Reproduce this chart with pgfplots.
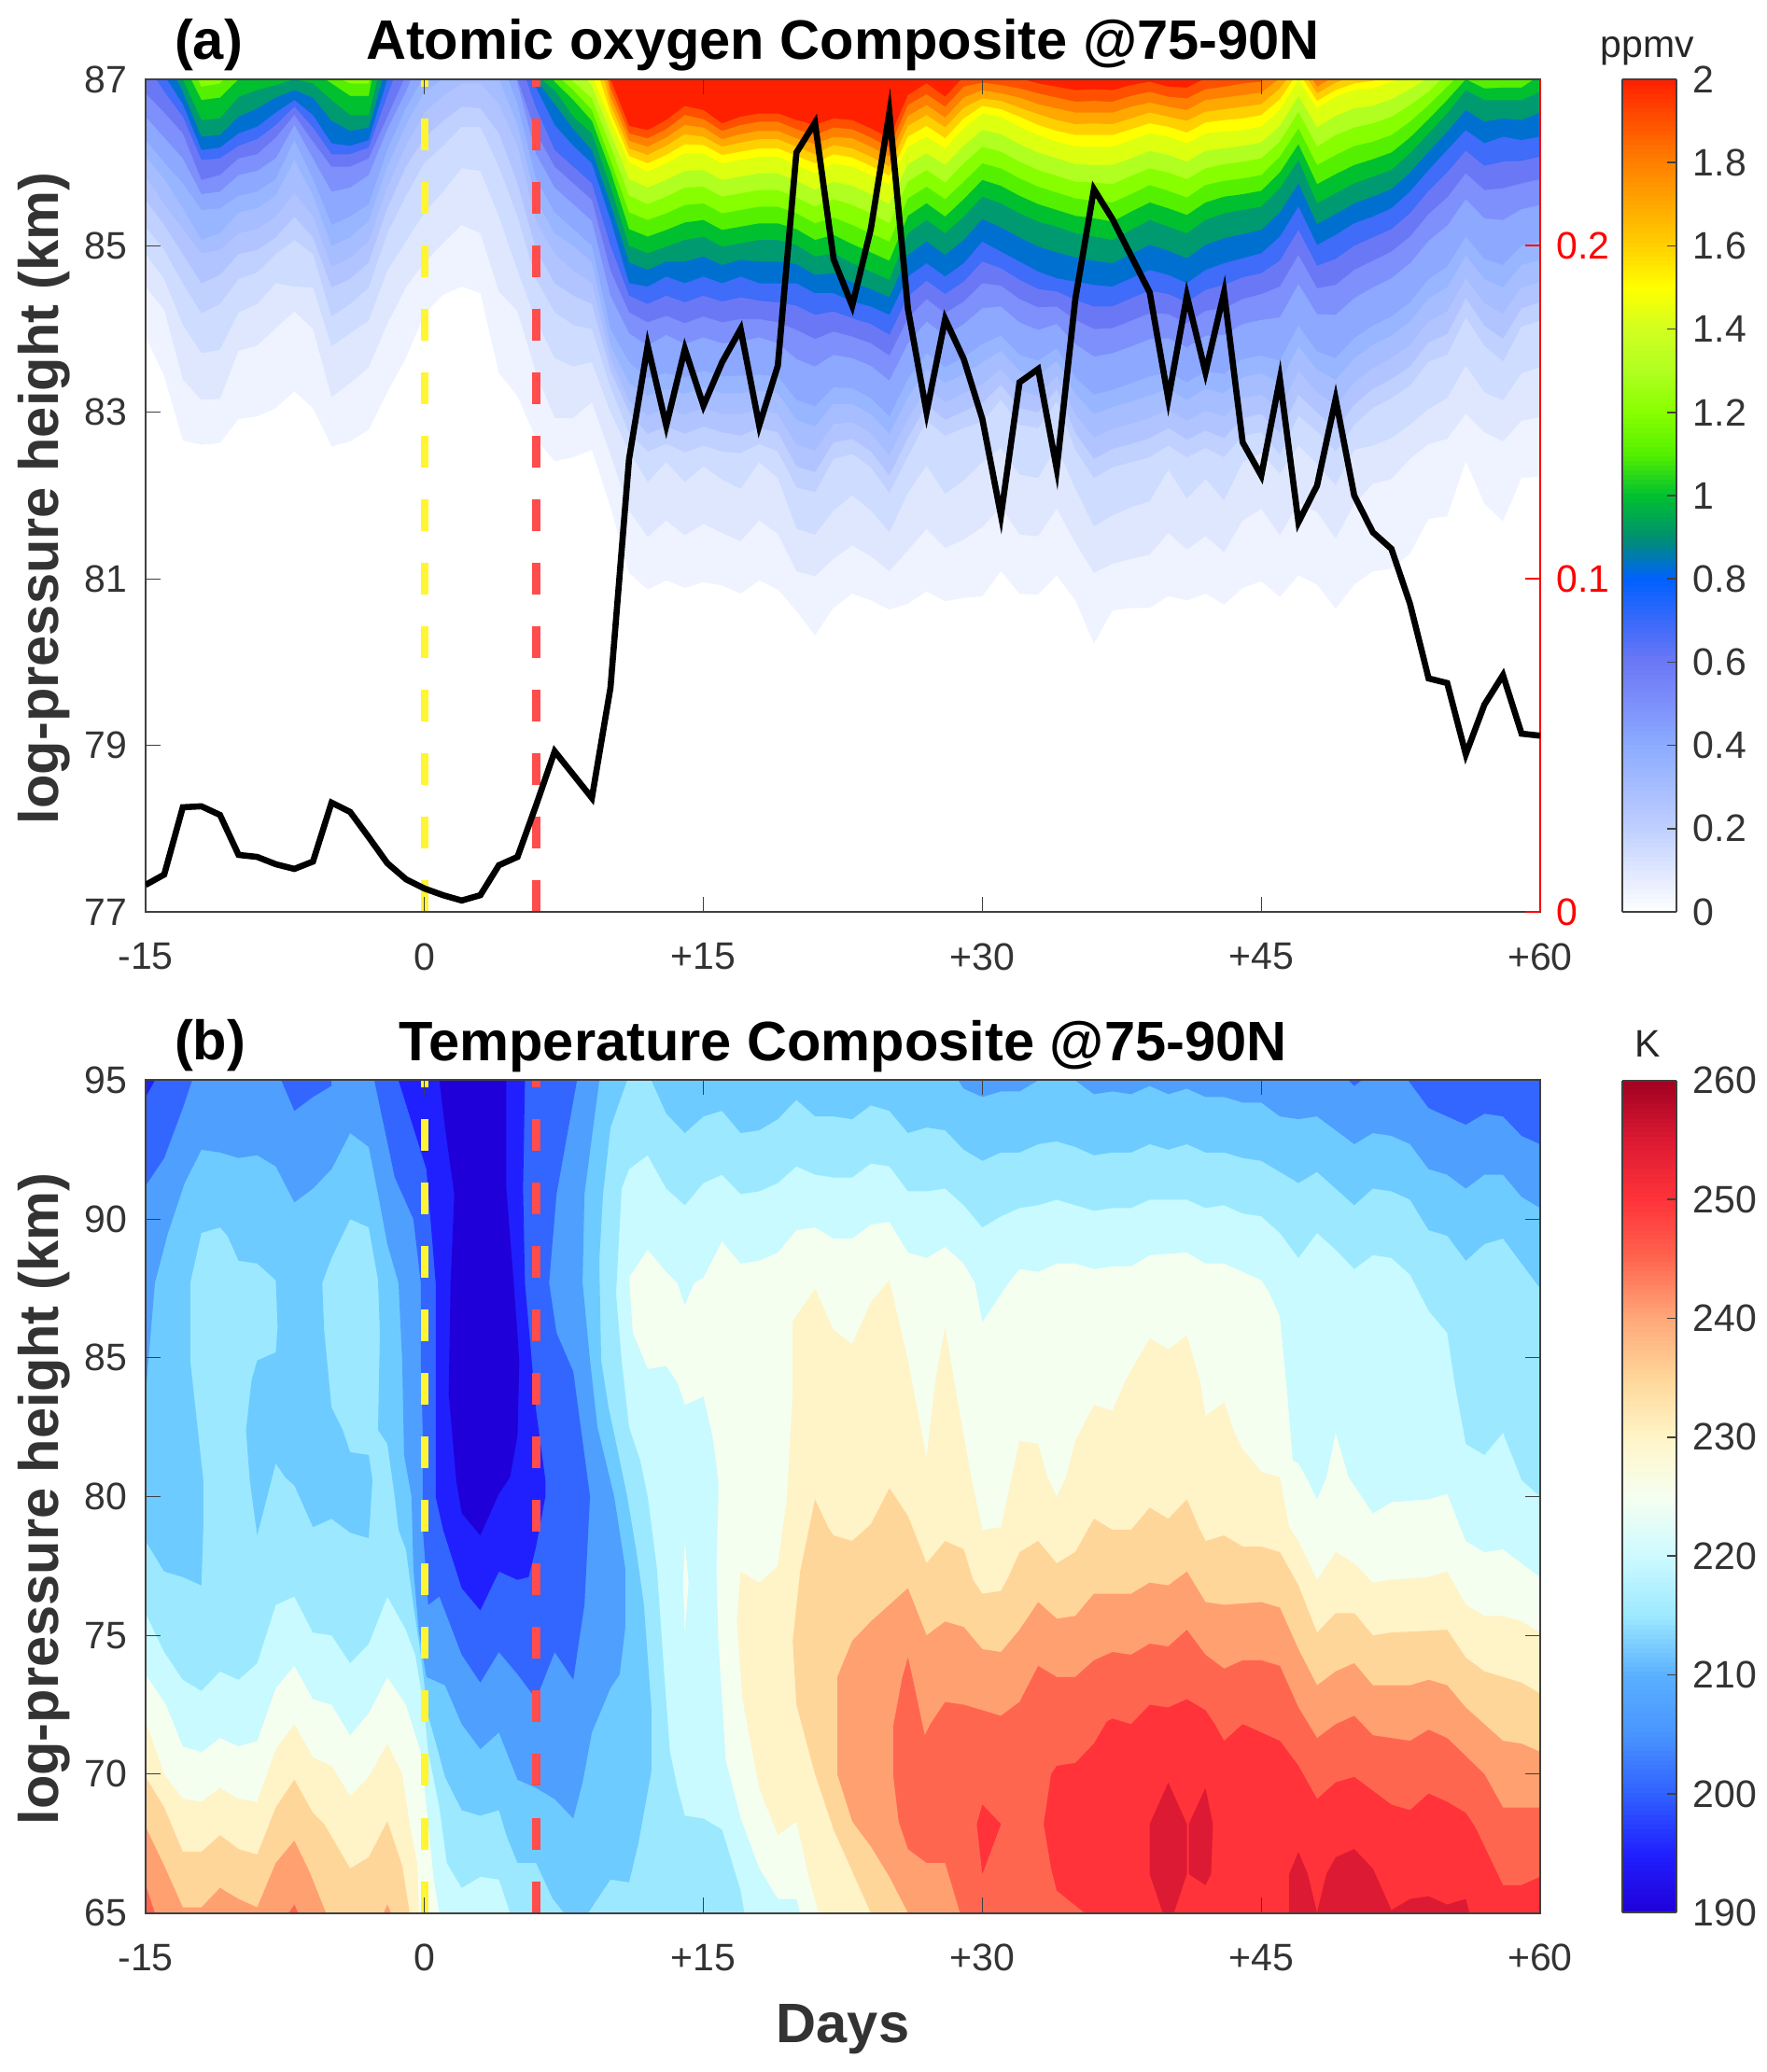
\documentclass[border=0pt]{standalone}
\usepackage{fontspec}
\setmainfont{Liberation Sans}
\usepackage{pgfplots}
\usepackage{pgfplotstable}
\pgfplotsset{compat=1.18}
\newcommand{\ticksize}{\fontsize{20.5}{24}\selectfont}
\newcommand{\titlesize}{\fontsize{29.8}{34}\selectfont\bfseries}
\definecolor{spine}{HTML}{404040}
\definecolor{labelc}{HTML}{333333}
% atomic oxygen bands, each named after its upper level
\definecolor{b005}{HTML}{FFFFFF}\definecolor{b010}{HTML}{EEF3FF}\definecolor{b015}{HTML}{DFE7FF}
\definecolor{b020}{HTML}{CDDCFF}\definecolor{b025}{HTML}{C0D0FF}\definecolor{b030}{HTML}{B2C4FF}
\definecolor{b035}{HTML}{A6BDFF}\definecolor{b040}{HTML}{98B6FF}\definecolor{b050}{HTML}{8CA8FF}
\definecolor{b060}{HTML}{7D90FB}\definecolor{b070}{HTML}{6B78F5}\definecolor{b080}{HTML}{3F6CF8}
\definecolor{b090}{HTML}{0070D0}\definecolor{b100}{HTML}{009A70}\definecolor{b110}{HTML}{00C030}
\definecolor{b120}{HTML}{55F000}\definecolor{b130}{HTML}{88FF00}\definecolor{b140}{HTML}{B0FF20}
\definecolor{b150}{HTML}{DDFF10}\definecolor{b160}{HTML}{FFFF00}\definecolor{b170}{HTML}{FFD000}
\definecolor{b180}{HTML}{FFA800}\definecolor{b190}{HTML}{FF8000}\definecolor{b200}{HTML}{FF5000}
\definecolor{btop}{HTML}{FF2000}
% temperature bands
\definecolor{t190}{HTML}{2000D8}\definecolor{t195}{HTML}{2020FF}\definecolor{t200}{HTML}{3366FF}
\definecolor{t205}{HTML}{4F9FFF}\definecolor{t210}{HTML}{6ECBFF}\definecolor{t215}{HTML}{9CE9FF}
\definecolor{t220}{HTML}{C8FAFF}\definecolor{t225}{HTML}{F5FFF0}\definecolor{t230}{HTML}{FFF3C8}
\definecolor{t235}{HTML}{FFD699}\definecolor{t240}{HTML}{FFA070}\definecolor{t245}{HTML}{FF6650}
\definecolor{t250}{HTML}{FF3339}\definecolor{t255}{HTML}{DD1A33}
\pgfplotsset{
  colormap={ao}{rgb255=(255,255,255) rgb255=(223,231,255) rgb255=(192,208,255) rgb255=(166,189,255)
    rgb255=(140,172,255) rgb255=(125,144,251) rgb255=(107,120,245) rgb255=(58,106,250) rgb255=(0,96,255)
    rgb255=(0,144,112) rgb255=(0,192,48) rgb255=(85,240,0) rgb255=(136,255,0) rgb255=(176,255,32)
    rgb255=(208,255,32) rgb255=(255,255,0) rgb255=(255,208,0) rgb255=(255,168,0) rgb255=(255,128,0)
    rgb255=(255,80,0) rgb255=(255,32,0)},
  colormap={tk}{rgb255=(32,0,216) rgb255=(32,32,255) rgb255=(48,96,255) rgb255=(72,148,255)
    rgb255=(90,176,255) rgb255=(156,233,255) rgb255=(205,250,255) rgb255=(245,255,240) rgb255=(255,245,200)
    rgb255=(255,214,153) rgb255=(255,168,120) rgb255=(255,102,80) rgb255=(255,51,57) rgb255=(221,26,51)
    rgb255=(160,0,32)},
  panel/.style={
    scale only axis, width=747pt, height=446pt,
    xmin=-15, xmax=60,
    xtick={-15,0,15,30,45,60},
    xticklabels={-15,0,+15,+30,+45,+60},
    axis on top,
    tick align=inside,
    major tick length=8pt,
    tick style={color=spine,line width=0.6pt},
    axis line style={color=spine,line width=1pt},
    xticklabel style={font=\ticksize,color=labelc,anchor=north,inner sep=0pt,yshift=-16.5pt},
    yticklabel style={font=\ticksize,color=labelc,anchor=east,inner sep=0pt,xshift=-9.5pt},
    title style={at={(axis description cs:0.5,1.0105)},anchor=base,font=\titlesize,color=black},
    every axis y label/.style={at={(axis description cs:-0.06225,0.497)},rotate=90,anchor=base,font=\titlesize,color=labelc},
    every axis x label/.style={at={(axis description cs:0.5,-0.1557)},anchor=base,font=\titlesize,color=labelc},
  },
  bar/.style={at={(parent axis.south east)},anchor=south west,xshift=35.7pt,width=29pt,height=446pt,
    samples=180,
    ytick pos=right,yticklabel pos=right,tick align=inside,major tick length=5pt,
    tick style={color=spine,line width=0.8pt},axis line style={color=spine,line width=1pt},
    yticklabel style={font=\ticksize,color=labelc,anchor=west,inner sep=0pt,xshift=8.5pt}},
}
\pgfplotstableread{
d L005 L010 L015 L020 L025 L030 L035 L040 L050 L060 L070 L080 L090 L100 L110 L120 L130 L140 L150 L160 L170 L180 L190 L200
-15 83.91 84.51 84.9 85.23 85.55 85.83 86.07 86.27 86.55 86.83 87.2 87.7 88 88 88 88 88 88 88 88 88 88 88 88
-14 83.43 84.23 84.6 84.95 85.25 85.5 85.8 86.0 86.3 86.6 86.85 87.05 87.3 87.6 88 88 88 88 88 88 88 88 88 88
-13 82.66 83.39 84.05 84.55 84.9 85.2 85.45 85.75 86.05 86.35 86.55 86.7 86.85 87.0 87.2 87.4 87.7 88 88 88 88 88 88 88
-12 82.61 83.15 83.71 84.19 84.55 84.91 85.07 85.43 85.62 85.79 86.03 86.15 86.31 86.51 86.75 86.91 87.03 87.3 87.6 88 88 88 88 88
-11 82.63 83.16 83.75 84.3 84.65 84.95 85.15 85.45 85.65 85.85 86.05 86.18 86.33 86.53 86.78 86.95 87.1 87.3 87.6 88 88 88 88 88
-10 82.92 83.74 84.2 84.6 84.9 85.15 85.4 85.6 85.85 86.05 86.2 86.35 86.55 86.79 87.0 87.2 87.5 88 88 88 88 88 88 88
-9 82.95 83.80 84.3 84.68 84.95 85.2 85.45 85.65 85.9 86.1 86.28 86.43 86.65 86.87 87.1 87.3 87.6 88 88 88 88 88 88 88
-8 83.05 84.01 84.55 84.9 85.1 85.35 85.6 85.8 86.05 86.3 86.45 86.6 86.78 86.93 87.15 87.35 87.7 88 88 88 88 88 88 88
-7 83.25 84.21 84.51 85.07 85.35 85.63 86.03 86.27 86.45 86.57 86.67 86.75 86.87 87.0 87.2 87.4 88 88 88 88 88 88 88 88
-6 83.05 84.0 84.5 84.9 85.1 85.35 85.6 85.8 86.05 86.25 86.42 86.57 86.78 86.95 87.1 87.3 87.6 88 88 88 88 88 88 88
-5 82.59 83.18 83.79 84.15 84.5 84.75 85.0 85.25 85.65 85.95 86.1 86.23 86.5 86.75 86.95 87.05 87.3 87.6 88 88 88 88 88 88
-4 82.65 83.35 83.95 84.3 84.6 84.85 85.1 85.35 85.7 85.95 86.1 86.2 86.38 86.57 86.8 86.95 87.2 87.5 88 88 88 88 88 88
-3 82.79 83.54 84.1 84.5 84.8 85.05 85.3 85.5 85.85 86.05 86.18 86.27 86.42 86.57 86.8 86.95 87.2 87.5 88 88 88 88 88 88
-2 83.24 84.06 84.7 85.15 85.45 85.7 85.95 86.15 86.4 86.55 86.8 87.0 87.2 87.5 88 88 88 88 88 88 88 88 88 88
-1 83.65 84.5 85.05 85.6 85.95 86.2 86.45 86.65 86.85 87.05 87.4 88 88 88 88 88 88 88 88 88 88 88 88 88
0 84.18 84.8 85.4 86.0 86.3 86.6 86.85 87.05 87.4 88 88 88 88 88 88 88 88 88 88 88 88 88 88 88
1 84.41 85.03 85.65 86.2 86.5 86.8 87.0 87.3 88 88 88 88 88 88 88 88 88 88 88 88 88 88 88 88
2 84.51 85.25 85.93 86.43 86.67 86.95 87.2 87.6 88 88 88 88 88 88 88 88 88 88 88 88 88 88 88 88
3 84.43 85.15 85.9 86.43 86.65 86.95 87.2 87.6 88 88 88 88 88 88 88 88 88 88 88 88 88 88 88 88
4 83.47 84.45 85.35 85.95 86.35 86.7 87.0 87.3 87.8 88 88 88 88 88 88 88 88 88 88 88 88 88 88 88
5 83.19 84.21 84.7 85.35 85.75 86.2 86.45 86.7 86.95 87.0 87.3 87.5 88 88 88 88 88 88 88 88 88 88 88 88
6 82.68 83.47 84.1 84.6 84.95 85.3 85.55 85.8 86.1 86.35 86.65 86.9 87.0 87.05 87.3 87.6 88 88 88 88 88 88 88 88
7 82.41 82.93 83.65 84.2 84.55 84.9 85.15 85.4 85.7 85.95 86.15 86.45 86.7 86.87 86.97 87.07 87.3 87.6 88 88 88 88 88 88
8 82.46 82.93 83.55 84.05 84.4 84.7 85.0 85.2 85.5 85.75 85.95 86.2 86.4 86.55 86.75 86.87 86.97 87.2 87.5 88 88 88 88 88
9 82.55 83.12 83.6 84.0 84.3 84.55 84.8 85.0 85.3 85.55 85.75 85.99 86.15 86.35 86.5 86.63 86.77 86.92 87.05 87.3 87.6 88 88 88
10 81.86 82.49 83.0 83.3 83.5 83.65 83.8 84.0 84.4 84.7 85.0 85.31 85.5 85.71 85.9 86.03 86.2 86.35 86.51 86.6 86.7 86.8 86.9 87.0
11 81.07 81.82 82.53 82.75 83.0 83.13 83.35 83.6 83.95 84.2 84.4 84.55 84.8 85.0 85.2 85.4 85.6 85.8 86.0 86.08 86.17 86.26 86.35 86.44
12 80.87 81.50 82.16 82.53 82.74 82.96 83.2 83.41 83.8 84.08 84.3 84.51 84.71 84.91 85.11 85.31 85.5 85.7 85.89 85.99 86.09 86.19 86.29 86.39
13 80.98 81.70 82.40 82.62 82.83 83.05 83.28 83.47 83.93 84.16 84.4 84.63 84.81 84.99 85.19 85.39 85.59 85.79 85.99 86.09 86.2 86.3 86.4 86.51
14 80.89 81.52 82.16 82.52 82.74 82.97 83.22 83.42 83.82 84.07 84.32 84.55 84.81 85.07 85.28 85.49 85.7 85.9 86.11 86.22 86.34 86.45 86.57 86.68
15 80.96 81.66 82.35 82.6 82.83 83.05 83.3 83.5 83.9 84.15 84.4 84.63 84.87 85.11 85.31 85.51 85.71 85.91 86.11 86.21 86.31 86.42 86.52 86.63
16 80.92 81.55 82.19 82.53 82.76 82.98 83.23 83.43 83.83 84.08 84.33 84.55 84.77 84.99 85.19 85.39 85.59 85.79 85.99 86.09 86.19 86.28 86.38 86.47
17 80.82 81.45 82.08 82.51 82.72 82.98 83.23 83.44 83.85 84.12 84.38 84.63 84.83 85.03 85.23 85.43 85.63 85.83 86.03 86.13 86.24 86.34 86.45 86.55
18 80.98 81.70 82.40 82.62 82.81 83.03 83.26 83.45 83.9 84.12 84.34 84.55 84.81 85.07 85.27 85.47 85.67 85.87 86.07 86.17 86.28 86.38 86.49 86.59
19 80.87 81.54 82.21 82.53 82.76 82.98 83.23 83.43 83.83 84.08 84.32 84.55 84.81 85.07 85.27 85.47 85.67 85.87 86.07 86.17 86.28 86.38 86.49 86.59
20 80.61 81.09 81.60 82.10 82.35 82.61 82.91 83.15 83.64 83.99 84.28 84.55 84.78 85.01 85.2 85.39 85.58 85.78 85.97 86.08 86.19 86.29 86.4 86.51
21 80.32 81.03 81.53 82.04 82.28 82.54 82.83 83.07 83.55 83.88 84.17 84.43 84.65 84.87 85.07 85.27 85.47 85.67 85.87 85.99 86.1 86.22 86.33 86.45
22 80.65 81.24 81.82 82.44 82.64 82.86 83.1 83.3 83.69 83.97 84.21 84.43 84.67 84.91 85.13 85.34 85.56 85.77 85.99 86.1 86.21 86.31 86.42 86.53
23 80.82 81.40 82.0 82.5 82.68 82.88 83.1 83.29 83.65 83.91 84.13 84.33 84.56 84.79 85.02 85.25 85.49 85.72 85.95 86.06 86.17 86.29 86.4 86.51
24 80.74 81.27 81.82 82.34 82.53 82.75 82.98 83.17 83.56 83.83 84.06 84.27 84.48 84.69 84.92 85.15 85.39 85.62 85.85 85.96 86.07 86.19 86.3 86.41
25 80.63 81.09 81.56 82.03 82.24 82.48 82.74 82.95 83.38 83.68 83.93 84.17 84.38 84.59 84.82 85.05 85.27 85.5 85.73 85.84 85.95 86.07 86.18 86.29
26 80.70 81.34 82.03 82.47 82.69 82.92 83.18 83.4 83.83 84.13 84.39 84.63 84.89 85.15 85.36 85.57 85.77 85.98 86.19 86.31 86.44 86.56 86.69 86.81
27 80.85 81.60 82.36 82.9 83.09 83.3 83.52 83.71 84.09 84.36 84.58 84.79 85.05 85.31 85.51 85.71 85.91 86.11 86.31 86.44 86.57 86.69 86.82 86.95
28 80.73 81.37 82.02 82.72 82.91 83.12 83.35 83.54 83.92 84.19 84.42 84.63 84.89 85.15 85.35 85.56 85.76 85.97 86.17 86.29 86.42 86.54 86.67 86.79
29 80.77 81.47 82.18 82.81 83.01 83.23 83.46 83.66 84.06 84.33 84.57 84.79 85.07 85.35 85.56 85.77 85.99 86.2 86.41 86.53 86.66 86.78 86.91 87.03
30 80.79 81.62 82.40 82.89 83.11 83.34 83.6 83.82 84.25 84.55 84.81 85.05 85.32 85.59 85.79 85.99 86.19 86.39 86.59 86.68 86.77 86.87 86.96 87.05
31 81.09 81.86 82.57 83.15 83.33 83.52 83.74 83.92 84.27 84.52 84.73 84.93 85.22 85.51 85.72 85.93 86.13 86.34 86.55 86.64 86.74 86.83 86.93 87.02
32 80.82 81.53 82.25 82.85 83.05 83.26 83.5 83.69 84.08 84.36 84.59 84.81 85.1 85.39 85.6 85.81 86.01 86.22 86.43 86.55 86.66 86.78 86.89 87.01
33 80.81 81.51 82.21 82.81 83.0 83.2 83.43 83.62 83.99 84.26 84.48 84.69 84.99 85.29 85.5 85.71 85.91 86.12 86.33 86.45 86.58 86.7 86.83 86.95
34 81.04 81.84 82.59 83.13 83.28 83.44 83.62 83.77 84.06 84.27 84.45 84.61 84.92 85.23 85.43 85.64 85.84 86.05 86.25 86.38 86.51 86.65 86.78 86.91
35 80.74 81.43 82.08 82.55 82.75 82.97 83.22 83.42 83.82 84.11 84.35 84.57 84.86 85.15 85.36 85.57 85.77 85.98 86.19 86.33 86.46 86.6 86.73 86.87
36 80.22 81.07 81.63 82.21 82.44 82.7 82.98 83.21 83.67 84.0 84.27 84.53 84.82 85.11 85.33 85.54 85.76 85.97 86.19 86.33 86.47 86.6 86.74 86.88
37 80.62 81.18 81.76 82.34 82.56 82.8 83.06 83.27 83.71 84.01 84.27 84.51 84.79 85.07 85.29 85.52 85.74 85.97 86.19 86.33 86.46 86.6 86.73 86.87
38 80.65 81.24 81.86 82.40 82.62 82.86 83.13 83.35 83.79 84.1 84.37 84.61 84.9 85.19 85.41 85.62 85.84 86.05 86.27 86.4 86.53 86.67 86.8 86.93
39 80.65 81.29 81.93 82.46 82.69 82.93 83.2 83.43 83.88 84.19 84.46 84.71 85.01 85.31 85.52 85.73 85.93 86.14 86.35 86.47 86.6 86.72 86.85 86.97
40 80.79 81.55 82.31 82.6 82.81 83.03 83.28 83.48 83.89 84.18 84.42 84.65 84.94 85.23 85.45 85.66 85.88 86.09 86.31 86.43 86.55 86.67 86.79 86.91
41 80.74 81.35 81.96 82.46 82.67 82.9 83.15 83.36 83.78 84.07 84.32 84.55 84.85 85.15 85.37 85.58 85.8 86.01 86.23 86.36 86.5 86.63 86.77 86.9
42 80.82 81.51 82.2 82.57 82.78 83.02 83.28 83.49 83.92 84.22 84.47 84.71 85.01 85.31 85.52 85.73 85.93 86.14 86.35 86.48 86.61 86.75 86.88 87.01
43 80.69 81.32 81.94 82.46 82.69 82.95 83.23 83.46 83.93 84.25 84.53 84.79 85.09 85.39 85.59 85.78 85.98 86.17 86.37 86.51 86.64 86.78 86.91 87.05
44 80.89 81.70 82.4 82.72 82.93 83.17 83.42 83.64 84.06 84.36 84.62 84.85 85.14 85.43 85.62 85.81 86.01 86.2 86.39 86.53 86.67 86.81 86.95 87.09
45 80.97 81.84 82.51 82.76 82.98 83.21 83.47 83.68 84.11 84.42 84.67 84.91 85.19 85.47 85.66 85.85 86.05 86.24 86.43 86.57 86.7 86.84 86.97 87.11
46 80.78 81.52 82.26 82.49 82.75 83.04 83.35 83.62 84.14 84.51 84.82 85.11 85.4 85.69 85.88 86.07 86.25 86.44 86.63 86.76 86.89 87.01 87.14 87.27
47 81.04 81.91 82.6 82.96 83.21 83.49 83.79 84.04 84.54 84.89 85.19 85.47 85.75 86.03 86.22 86.41 86.61 86.8 86.99 87.09 87.18 87.28 87.37 87.47
48 80.93 81.80 82.38 82.77 83.0 83.24 83.51 83.73 84.18 84.49 84.76 85.01 85.26 85.51 85.74 85.97 86.19 86.42 86.65 86.74 86.83 86.91 87.0 87.09
49 80.64 81.48 82.12 82.53 82.79 83.08 83.39 83.65 84.17 84.53 84.84 85.13 85.38 85.63 85.86 86.09 86.33 86.56 86.79 86.87 86.96 87.04 87.13 87.21
50 80.93 81.90 82.55 82.85 83.09 83.36 83.65 83.89 84.37 84.71 85.0 85.27 85.51 85.75 85.97 86.2 86.42 86.65 86.87 86.95 87.04 87.12 87.21 87.29
51 81.09 82.14 82.6 83.05 83.28 83.53 83.81 84.04 84.5 84.82 85.1 85.35 85.59 85.83 86.04 86.25 86.47 86.68 86.89 86.98 87.07 87.17 87.26 87.35
52 81.12 82.20 82.69 83.17 83.4 83.65 83.92 84.15 84.61 84.93 85.2 85.45 85.68 85.91 86.12 86.33 86.55 86.76 86.97 87.05 87.14 87.22 87.31 87.39
53 81.30 82.44 82.85 83.32 83.55 83.81 84.09 84.32 84.79 85.11 85.39 85.65 85.88 86.11 86.3 86.49 86.69 86.88 87.07 87.15 87.23 87.31 87.39 87.47
54 81.72 82.62 83.04 83.61 83.84 84.09 84.37 84.6 85.06 85.38 85.66 85.91 86.13 86.35 86.52 86.69 86.85 87.02 87.19 87.3 87.4 87.45 87.5 87.55
55 81.75 82.68 83.17 83.69 83.94 84.21 84.5 84.75 85.24 85.58 85.88 86.15 86.37 86.59 86.75 86.91 87.07 87.23 87.39 87.45 87.5 87.6 87.65 87.71
56 82.41 82.98 83.56 84.14 84.37 84.61 84.88 85.11 85.56 85.87 86.14 86.39 86.63 86.87 87.0 87.14 87.28 87.41 87.55 87.6 87.65 87.7 87.8 87.83
57 81.90 82.76 83.24 83.8 84.04 84.31 84.6 84.84 85.33 85.67 85.96 86.23 86.49 86.75 86.89 87.03 87.16 87.3 87.43 87.5 87.55 87.6 87.7 87.75
58 81.69 82.65 83.14 83.61 83.88 84.18 84.5 84.77 85.31 85.69 86.01 86.31 86.53 86.75 86.9 87.04 87.18 87.33 87.47 87.5 87.55 87.65 87.7 87.75
59 82.21 82.90 83.47 84.03 84.25 84.5 84.77 85.0 85.44 85.75 86.02 86.27 86.51 86.75 86.9 87.04 87.18 87.33 87.47 87.5 87.55 87.65 87.7 87.75
60 82.23 82.94 83.54 84.1 84.32 84.56 84.83 85.05 85.49 85.8 86.07 86.31 86.6 86.85 87.05 87.2 87.33 87.44 87.55 87.6 87.65 87.7 87.8 87.83
}\aolevels
\pgfplotstableread{
d v
-15 .0081
-14 .0112
-13 .0314
-12 .0317
-11 .0291
-10 .0171
-9 .0165
-8 .0143
-7 .0129
-6 .0151
-5 .0328
-4 .0300
-3 .0224
-2 .0146
-1 .0098
0 .0070
1 .0050
2 .0034
3 .0050
4 .0140
5 .0165
6 .0320
7 .0482
8 .0412
9 .0342
10 .0673
11 .136
12 .170
13 .146
14 .169
15 .152
16 .165
17 .175
18 .146
19 .164
20 .228
21 .237
22 .196
23 .182
24 .205
25 .240
26 .181
27 .150
28 .178
29 .166
30 .148
31 .119
32 .159
33 .163
34 .133
35 .184
36 .217
37 .208
38 .197
39 .186
40 .154
41 .185
42 .162
43 .186
44 .141
45 .131
46 .160
47 .117
48 .128
49 .154
50 .125
51 .114
52 .109
53 .0925
54 .0701
55 .0687
56 .0473
57 .0622
58 .0711
59 .0535
60 .0529
}\aoindex
\begin{document}
\begin{tikzpicture}
\useasboundingbox (0,0) rectangle (946pt,1110pt);

% panel (a)
\begin{axis}[panel, name=pa, at={(78pt,621.5pt)}, anchor=south west,
  title={Atomic oxygen Composite @75-90N},
  ylabel={log-pressure height (km)},
  ymin=77, ymax=87,
  ytick={77,79,81,83,85,87}, yticklabels={77,79,81,83,85,87},
  ytick pos=left,
  axis background/.style={fill=btop},
  colormap name=ao, point meta min=0, point meta max=2,
  colorbar sampled,
  colorbar style={bar,
    ytick={0,0.2,0.4,0.6,0.8,1,1.2,1.4,1.6,1.8,2},
    yticklabels={0,0.2,0.4,0.6,0.8,1,1.2,1.4,1.6,1.8,2}},
]
\pgfplotsinvokeforeach{200,190,180,170,160,150,140,130,120,110,100,090,080,070,060,050,040,035,030,025,020,015,010,005}{
  \addplot[fill=b#1,draw=none] table[x=d,y=L#1]{\aolevels} \closedcycle;
}
\addplot[color=yellow!80!white,line width=4.2pt,dash pattern=on 17pt off 17pt,dash phase=13pt] coordinates {(0,87)(0,77)};
\addplot[color=red!70!white,line width=4.2pt,dash pattern=on 17pt off 17pt,dash phase=13pt] coordinates {(6,87)(6,77)};
\end{axis}

\begin{axis}[scale only axis, width=747pt, height=446pt, at={(78pt,621.5pt)}, anchor=south west,
  xmin=-15, xmax=60, ymin=0, ymax=0.25,
  axis x line=none, axis y line*=right,
  ytick={0,0.1,0.2}, yticklabels={0,0.1,0.2},
  tick align=inside, major tick length=8pt,
  y axis line style={color=red,line width=1pt},
  ytick style={color=red,line width=1pt},
  yticklabel style={font=\ticksize,color=red,anchor=west,inner sep=0pt,xshift=8.5pt},
]
\addplot[color=black,line width=3.3pt] table[x=d,y=v]{\aoindex};
\end{axis}

% panel (b)
\begin{axis}[panel, name=pb, at={(78pt,85.25pt)}, anchor=south west,
  title={Temperature Composite @75-90N},
  ylabel={log-pressure height (km)},
  xlabel={Days},
  ymin=65, ymax=95,
  ytick={65,70,75,80,85,90,95}, yticklabels={65,70,75,80,85,90,95},
  axis background/.style={fill=t225},
  colormap name=tk, point meta min=190, point meta max=260,
  colorbar sampled,
  colorbar style={bar,
    ytick={190,200,210,220,230,240,250,260},
    yticklabels={190,200,210,220,230,240,250,260}},
]
% below 225 K
\addplot[fill=t220,draw=none] coordinates {(-15,95)(-15,73.6)(-13.9,72.5)(-13,71)(-12,70.8)(-11,71.3)(-10,71)(-9,71.2)(-8,73.1)(-7,73.9)(-6,72.7)(-5,72.5)(-4,71.4)(-3,72.2)(-2,73.5)(-1,72.5)(-0.2,70.8)(0.2,68.2)(0.5,66.2)(0.8,65)(20.2,65)(20,65.5)(19,65.5)(18,66.6)(17,68.4)(16.2,70.5)(15.8,74.8)(15.7,77.4)(15.8,80)(15.8,80.6)(15.5,82.1)(15,83.6)(14,83.3)(13.6,84.1)(13,84.7)(12,84.6)(11.2,85.9)(11,87.9)(12,88.9)(13,88.1)(13.6,87.7)(14,86.9)(14.5,87.7)(15,87.9)(16,89.2)(17,88.4)(18,88.5)(19,88.8)(20,89.6)(21,89.7)(22,89.3)(23,89.3)(24,89.8)(25,89.9)(26,88.8)(27,88.6)(28,89)(29,88.4)(29.6,87.7)(30,86.3)(31,87.3)(31.4,87.7)(32,88.2)(33,88.1)(34,88.4)(35,88.4)(36,88.2)(37,88.3)(38,88.3)(39,88.7)(41,88.8)(42,88.4)(43,88.4)(44,88.1)(45,87.8)(45.4,87.4)(46,86.5)(46.4,83.7)(46.7,81.3)(47,81.2)(47.5,80.6)(48,79.9)(48.5,80.7)(49,82.3)(49.7,80.7)(51,79.4)(52,79.8)(54,79.9)(55,80.1)(56,78.4)(57,78)(58,78.1)(59,77.6)(60,77.1)(60,95)} --cycle;
\addplot[fill=t225,draw=none] coordinates {(14,78.4)(14.2,76.9)(14,75.1)(13.9,76.9)} --cycle;
% below 220 K
\addplot[fill=t215,draw=none] coordinates {(-15,95)(-15,75.8)(-14,74.4)(-13,73.4)(-12,73)(-11,73.7)(-10,73.4)(-9,74)(-8,76.1)(-7,76.4)(-6,75.1)(-5,75)(-4,74)(-3,74.7)(-2,76.4)(-1,75.2)(-0.5,74.3)(-0.05,72.5)(0.2,70.8)(0.8,68.8)(1.2,66.8)(2,65.9)(3,66.3)(4,66.2)(4.6,65)(17.2,65)(17,65.8)(16,68)(15,68.4)(14,68.5)(13.6,69.5)(13.2,70.8)(12.9,73.5)(12.5,77.4)(12,80)(11.6,81.3)(11,82.5)(10.6,84.9)(10.3,87.3)(10.6,91.1)(11,91.8)(12,92.3)(13,91.1)(14,90.5)(15,91.3)(16,91.6)(17,90.9)(18,91)(19,91.3)(20,91.9)(21,91.6)(22,91.5)(23,91.5)(24,92)(25,91.9)(26,91)(27,91)(28,91.1)(29,90.5)(30,89.7)(31,90.1)(32,90.4)(33,90.5)(34,90.7)(35,90.5)(36,90.3)(37,90.4)(38,90.4)(39,90.7)(40,90.7)(41,90.7)(42,90.4)(43,90.5)(44,90.2)(45,90.1)(46,89.5)(47,88.6)(48,89.5)(49,88.9)(50,88.2)(51,88.7)(52,88.6)(53,88)(54,86.7)(55,85.9)(55.4,84.1)(56,81.9)(57,81.5)(58,82.3)(59,80.6)(60,80)(60,95)} --cycle;
% below 215 K
\addplot[fill=t210,draw=none] coordinates {(-15,95)(-15,78.4)(-14,77.3)(-13,77.1)(-12,76.8)(-11.9,78.8)(-11.9,80.6)(-12.6,84.9)(-12.6,87.7)(-12,89.5)(-11,89.7)(-10.6,89.4)(-10,88.5)(-9,88.4)(-8,87.8)(-7.9,86.1)(-8,85.2)(-9,84.9)(-9.3,84.2)(-9.6,82.4)(-9.4,80.6)(-9,78.6)(-8,81.2)(-7.5,80.7)(-7,80.4)(-6,78.9)(-5,79.2)(-4,78.7)(-3,78.5)(-2.8,80.6)(-3,81.5)(-4,81.6)(-4.4,82.4)(-5,83.2)(-5.4,86)(-5.5,87.7)(-5,88.6)(-4,90)(-3,89.7)(-2.5,87.8)(-2.4,85.9)(-2.5,82.4)(-2,81.9)(-1.6,80)(-1.4,78.8)(-1,78.1)(-0.6,76.1)(-0.2,74.3)(0.2,72.1)(0.7,70.9)(1.1,69.9)(2,68.7)(3,68.5)(4,68.7)(4.4,67.8)(5,66.8)(6,66.8)(6.9,65.5)(7.5,65)(8.8,65)(10,66.2)(11,66.1)(11.5,67.5)(12.2,70.1)(12.2,72.4)(11.8,76.1)(11.4,78)(10.9,80)(10.5,81.3)(9.9,83.2)(9.5,84.9)(9.4,88.5)(9.6,90.9)(10,93.3)(10.9,95)} --cycle;
\addplot[fill=t210,draw=none] coordinates {(12.2,95)(13,93.8)(14,93.1)(15,93.7)(16,93.9)(17,93.1)(18,93.2)(19,93.6)(20,94.3)(21,93.7)(22,93.7)(23,93.6)(24,94.1)(25,93.9)(26,93.1)(27,93.3)(28,93.2)(29,92.5)(30,92.1)(31,92.4)(32,92.4)(33,92.7)(34,92.8)(35,92.6)(36,92.3)(37,92.4)(38,92.4)(39,92.7)(40,92.5)(41,92.7)(42,92.4)(43,92.4)(44,92.2)(45,92.1)(46,91.7)(47,91.3)(48,91.7)(49,91.1)(50,90.5)(51,91.1)(52,91)(53,90.7)(54,89.6)(55,89.4)(56,88.5)(57,89.1)(58,89.3)(59,88.4)(60,87.5)(60,95)} --cycle;
% below 210 K
\addplot[fill=t205,draw=none] coordinates {(-15,95)(-15,83.7)(-14.5,87.7)(-13.8,89.5)(-12.9,91.3)(-12,92.5)(-11,92.4)(-10,92.2)(-9,92.3)(-8,91.9)(-7,90.6)(-6,91.1)(-5,91.8)(-4,93.1)(-3,92.6)(-2.5,90.9)(-2,89.1)(-1.4,87.7)(-1.2,84.9)(-1.1,81.5)(-0.7,80)(-0.6,77.4)(-0.3,75.1)(0.1,73.5)(1.1,73.2)(2,71.8)(3,70.9)(4,71.5)(5,69.8)(6,69.5)(7,69.1)(8,68.4)(8.5,69.7)(9,71.5)(10,73.1)(10.5,73.6)(10.8,75.3)(10.8,77.4)(10.2,80)(9.3,82.5)(8.9,84.9)(8.5,87.7)(8.6,90.9)(9.4,95)} --cycle;
\addplot[fill=t205,draw=none] coordinates {(28.7,95)(29,94.7)(30,94.4)(31,94.6)(32,94.6)(33,95)(35,95)(36,94.5)(37,94.6)(38,94.5)(39,94.8)(40,94.5)(41,94.7)(42,94.4)(43,94.4)(44,94.2)(45,94.2)(46,93.7)(47,93.6)(48,93.7)(49,93.2)(50,92.7)(51,93.1)(52,93)(53,92.7)(54,91.8)(55,91.6)(56,91.1)(57,91.6)(58,91.6)(59,90.8)(60,90.4)(60,95)} --cycle;
% below 205 K
\addplot[fill=t200,draw=none] coordinates {(-15,95)(-12.5,95)(-13,94)(-14,92.2)(-15,91.2)} --cycle;
\addplot[fill=t200,draw=none] coordinates {(-7.7,95)(-7,93.9)(-6,94.4)(-5,94.8)(-5,95)} --cycle;
\addplot[fill=t200,draw=none] coordinates {(-2.7,95)(-1.6,91.5)(-0.6,90)(-0.2,87.7)(-0.2,84.9)(-0.1,82.5)(-0.1,78.9)(0.2,76.1)(0.8,76.4)(2,74.3)(3,73.3)(4,74.4)(5,73.6)(6,72.7)(7,74.4)(8,73.4)(8.6,76.1)(8.9,80)(8.4,82.5)(8,84.5)(7.1,85.9)(6.7,87.7)(7.1,90.9)(8.2,95)} --cycle;
\addplot[fill=t200,draw=none] coordinates {(52.9,95)(54,94)(56,93.4)(57,93.8)(58,93.7)(59,93)(60,92.7)(60,95)} --cycle;
\addplot[fill=t200,draw=none] coordinates {(49.7,95)(50,94.8)(50.4,95)} --cycle;
% below 200 K
\addplot[fill=t195,draw=none] coordinates {(-15,95)(-14.5,95)(-15,94.4)} --cycle;
\addplot[fill=t195,draw=none] coordinates {(-1.4,95)(-0.6,93.3)(0.1,91.8)(0.6,87.7)(0.6,83.7)(0.6,80)(1,78.8)(2,76.7)(3,75.9)(4,77.3)(5,77)(5.6,77.1)(6,78.2)(6.5,80)(6.5,80.6)(6,83.1)(5.4,87.7)(5.3,91.1)(5.4,95)} --cycle;
% below 195 K
\addplot[fill=t190,draw=none] coordinates {(0.8,95)(1.1,93.3)(1.6,90.9)(1.4,87.7)(1.3,83.7)(1.7,80.6)(2,79.4)(3,78.6)(4,80.1)(4.6,80.7)(5,82.2)(5.1,84.9)(4.8,87.7)(4.4,91.1)(4.4,95)} --cycle;
% above 230 K
\addplot[fill=t230,draw=none] coordinates {(-15,65)(-15,71.9)(-14,70)(-13,69.1)(-12,69)(-11,69.5)(-10,69.1)(-9,69)(-8,70.9)(-7,71.8)(-6,70.6)(-5,70.3)(-4,69.2)(-3,69.9)(-2,71.1)(-1.2,70)(-0.8,68.2)(-0.4,66.8)(-0.3,65)} --cycle;
\addplot[fill=t230,draw=none] coordinates {(21.2,65)(20.7,66.2)(20,68.3)(19,67.8)(18,69.5)(17.1,72.7)(16.8,75.5)(17,77.3)(18,76.9)(19,77.5)(19.5,80)(19.7,82.5)(19.8,83.7)(19.8,86.3)(21,87.5)(22,86)(23,85.5)(24,87)(25,87.8)(26,84.9)(27,81.4)(27.5,84.3)(28,86.1)(28.6,83.7)(29.4,80.7)(30,78.8)(31,78.9)(32,82)(33,81.9)(33.5,80.7)(34,80)(34.5,80.7)(35,82)(36,83.3)(37,83.1)(37.7,84.2)(39,85.7)(40,85.3)(41,85.8)(41.7,84.2)(42,82.9)(43,83.4)(43.5,82.4)(44,81.7)(45,80.9)(46,80.7)(46.5,78.9)(47,78.4)(48,77)(49,78)(50,77.6)(51,76.9)(52,77)(54,77.1)(55,77.3)(56,76.1)(57,75.7)(58,75.7)(59,75.5)(60,75.1)(60,65)} --cycle;
% above 235 K
\addplot[fill=t235,draw=none] coordinates {(-15,65)(-15,69.9)(-14,68.8)(-13,67.2)(-12,67.2)(-11,67.8)(-10,67.3)(-9,67.1)(-8,68.8)(-7,69.8)(-6,68.6)(-5.4,68.2)(-4,66.6)(-3,67)(-2,68.3)(-1.2,66.7)(-0.8,65)} --cycle;
\addplot[fill=t235,draw=none] coordinates {(24,65)(23,66.5)(22,68)(21,70)(20,72.5)(19.8,74.8)(20.2,77.3)(21,79.9)(21.7,78.9)(22,78.6)(23,78.4)(24,79)(25,80.3)(26,79.3)(27,77.6)(28,78.4)(29,78.1)(29.5,77)(30,76.5)(31,76.6)(31.4,77.1)(32,78)(33,78.4)(34,77.6)(35,78)(36,79.2)(37,78.8)(38,78.8)(39,79.6)(40,79.2)(41,79.9)(41.7,78.8)(42,78.4)(43,78.6)(44,78.2)(45,78.2)(46,78)(47,76.8)(48,75.1)(49,75.8)(50,75.8)(51,75)(52,75.1)(55,75.2)(56,74.2)(57,73.7)(59,73.3)(60,72.9)(60,65)} --cycle;
% above 240 K
\addplot[fill=t240,draw=none] coordinates {(-15,65)(-15,68.1)(-14,66.7)(-13,65.2)(-12,65.2)(-11,65.9)(-10,65.5)(-9,65.2)(-8,66.8)(-7,67.6)(-6.2,66.5)(-5.3,65)} --cycle;
\addplot[fill=t240,draw=none] coordinates {(-2.2,65)(-2,65.3)(-1.8,65)} --cycle;
\addplot[fill=t240,draw=none] coordinates {(26,65)(25,66.3)(24,67.4)(23,68.3)(22.2,70)(22.2,71.9)(22.2,73.5)(23,74.8)(24,75.5)(26,76.7)(27,75)(28,75.5)(29,75.3)(30,74.5)(31,74.4)(32,75.2)(33,76.2)(34,75.6)(35,75.7)(36,76.5)(38,76.5)(39,76.9)(40,76.8)(41,77.3)(42,76.2)(43,76.1)(45,76.2)(46,76)(47,74.5)(48,73.2)(49,73.7)(50,74)(51,73.2)(53,73.2)(54,73.4)(55,73.2)(56,72.4)(58,71.2)(59,71.1)(60,70.8)(60,65)} --cycle;
% above 245 K
\addplot[fill=t245,draw=none] coordinates {(-15,65)(-15,66)(-14.5,65)} --cycle;
\addplot[fill=t245,draw=none] coordinates {(-7.3,65)(-7,65.3)(-6.8,65)} --cycle;
\addplot[fill=t245,draw=none] coordinates {(28.8,65)(28,66.8)(27,66.8)(26,67.3)(25.5,68.3)(25.2,70)(25.2,71.7)(25.7,73.5)(26,74.2)(26.3,73.3)(26.9,71.4)(27.2,71.8)(28,72.6)(29,72.5)(30,72.3)(31,72.1)(32,72.6)(33,73.9)(34,73.5)(35,73.5)(36,74.1)(37,74.4)(38,74.3)(39,74.7)(40,74.6)(41,75.2)(42,74.3)(43,73.8)(44,74.1)(45,74.1)(46,73.9)(47,72.4)(48,71.3)(49,71.8)(50,72.1)(51,71.4)(52,71.3)(53,71.2)(54,71.6)(55,71.3)(57,70)(58,68.8)(59,68.8)(60,68.8)(60,65)} --cycle;
% above 250 K
\addplot[fill=t250,draw=none] coordinates {(35.5,65)(34,65.8)(33.7,66.6)(33.3,68.2)(33.7,70)(34,70.3)(35,70.4)(36,71.1)(36.7,71.9)(37,72)(38,71.8)(39,72.5)(40,72.4)(41,72.7)(42,72.3)(42.5,71.8)(43,71.2)(44,71.8)(45,71.5)(46,71.2)(47,70.3)(48,69.1)(49,69.7)(50,69.9)(51,69.4)(52,68.9)(53,68.7)(54,69.3)(55,69)(56,68.6)(56.5,68.1)(58,66)(59,66)(60,66.3)(60,65)} --cycle;
\addplot[fill=t250,draw=none] coordinates {(30,68.9)(31,68.2)(30,66.4)(29.7,68.2)} --cycle;
% above 255 K
\addplot[fill=t255,draw=none] coordinates {(39,68.2)(40,69.7)(41,68.2)(41,66.4)(40.3,65)(39.7,65)(39,66.4)} --cycle;
\addplot[fill=t255,draw=none] coordinates {(41.1,68.2)(42,69.5)(42.4,68.2)(42.3,66.4)(42,66)(41.1,66.4)} --cycle;
\addplot[fill=t255,draw=none] coordinates {(46.5,65)(46.5,66.4)(47,67.2)(47.5,66.4)(48,65)} --cycle;
\addplot[fill=t255,draw=none] coordinates {(48,65)(48.5,66.4)(49,67)(50,67.3)(51,66.6)(52,65.1)(53,65.5)(54,65.6)(55,65.3)(56,65.5)(56.2,65)} --cycle;
\addplot[color=yellow!80!white,line width=4.2pt,dash pattern=on 17pt off 17pt,dash phase=13pt] coordinates {(0,95)(0,65)};
\addplot[color=red!70!white,line width=4.2pt,dash pattern=on 17pt off 17pt,dash phase=13pt] coordinates {(6,95)(6,65)};
\end{axis}

\node[anchor=base west,font=\titlesize] at (90pt,1078pt) {(a)};
\node[anchor=base west,font=\titlesize] at (90pt,542pt) {(b)};
\node[anchor=base,font=\ticksize,color=black!85] at (882.5pt,1079pt) {ppmv};
\node[anchor=base,font=\ticksize,color=black!85] at (882.5pt,543.5pt) {K};
\end{tikzpicture}
\end{document}
